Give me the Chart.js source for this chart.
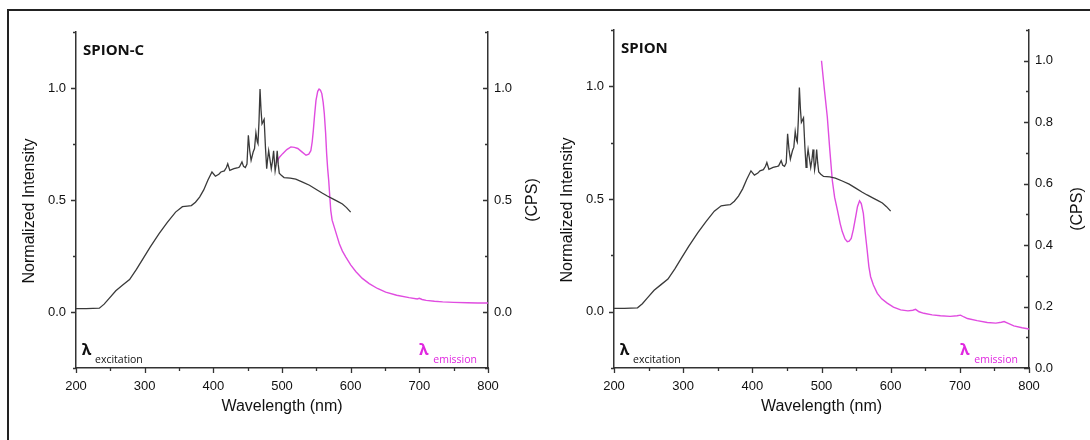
<!DOCTYPE html>
<html>
<head>
<meta charset="utf-8">
<script src="https://cdn.jsdelivr.net/npm/chart.js@4.4.0/dist/chart.umd.min.js"></script>
<style>
    body { margin: 0; background: #fff; }
    #frame {
        position: absolute; left: 7px; top: 9px; width: 1083px; height: 431px;
        border-top: 2px solid #222; border-left: 2px solid #222;
    }
    canvas { position: absolute; top: 0; }
    #spionC { left: 0; }
    #spion { left: 545px; }
</style>
</head>
<body>
<div id="frame"></div>
<canvas id="spionC" width="545" height="440"></canvas>
<canvas id="spion" width="545" height="440"></canvas>
<script>
// excitation scan, shared by both samples (normalized)
const wavelengthExcitation = [200, 215, 234, 241, 248, 258, 268, 278, 288, 297, 308, 321, 333, 345, 355, 362, 368, 374, 380, 386,
    392, 398, 403, 408, 411, 416, 419, 421, 424, 430, 436, 438, 441.7, 444, 446.6, 449, 451, 453, 455, 458,
    460, 462, 464, 465, 466.5, 468, 469.5, 470.9, 472.5, 474, 476, 477.7, 479, 480.6, 482.5, 484.4, 486, 487.8, 489, 490,
    491.5, 493, 494.5, 496, 499, 503, 512, 520, 530, 540, 550, 559, 566, 574, 581, 588, 594, 600];
const intensityExcitation = [0.015, 0.015, 0.017, 0.035, 0.06, 0.095, 0.12, 0.145, 0.19, 0.235, 0.29, 0.35, 0.40, 0.446, 0.47, 0.473, 0.475, 0.49, 0.513, 0.545,
    0.588, 0.625, 0.606, 0.615, 0.625, 0.63, 0.645, 0.662, 0.632, 0.64, 0.645, 0.647, 0.67, 0.65, 0.645, 0.66, 0.789, 0.72, 0.677, 0.714,
    0.73, 0.80, 0.76, 0.752, 0.85, 0.995, 0.90, 0.84, 0.85, 0.86, 0.73, 0.64, 0.68, 0.72, 0.68, 0.64, 0.67, 0.72, 0.67, 0.63,
    0.66, 0.72, 0.66, 0.62, 0.61, 0.60, 0.598, 0.593, 0.58, 0.566, 0.547, 0.53, 0.518, 0.505, 0.494, 0.482, 0.466, 0.446];

// SPION-C emission
const wavelengthEmissionC = [492, 496, 501, 507, 513, 518, 523, 529, 535, 539, 542, 544, 545.6, 547.5, 549.5, 552, 554, 556, 558, 560,
    561.6, 563.5, 565, 566.5, 568, 569.5, 571, 573, 576, 580, 583.5, 588, 593, 600, 607.7, 617, 627, 639, 651, 667,
    685, 697, 700, 704, 710, 722, 734, 750, 770, 785, 800];
const cpsEmissionC = [0.665, 0.69, 0.707, 0.725, 0.737, 0.735, 0.73, 0.715, 0.70, 0.705, 0.72, 0.76, 0.81, 0.88, 0.945, 0.985, 0.995, 0.99, 0.975, 0.935,
    0.886, 0.80, 0.707, 0.64, 0.588, 0.52, 0.454, 0.41, 0.38, 0.34, 0.305, 0.272, 0.245, 0.21, 0.18, 0.15, 0.127, 0.105, 0.089, 0.075,
    0.064, 0.058, 0.061, 0.056, 0.052, 0.048, 0.045, 0.043, 0.041, 0.04, 0.04];

// SPION emission
const wavelengthEmission = [500, 504, 508.4, 512, 515.6, 519, 523, 527, 530, 534, 537.3, 540, 543, 546, 549.4, 552, 555, 557.5, 560.5, 563,
    566, 568.5, 571, 575, 580.7, 587, 595, 604, 614.4, 625, 632, 636, 641, 648, 660, 672, 686, 696, 701, 706,
    711, 725, 739.7, 752, 760, 764, 770, 778, 790, 800];
const cpsEmission = [1.0, 0.91, 0.817, 0.71, 0.611, 0.555, 0.514, 0.47, 0.444, 0.42, 0.411, 0.413, 0.422, 0.45, 0.492, 0.525, 0.544, 0.535, 0.503, 0.445,
    0.384, 0.33, 0.297, 0.27, 0.243, 0.225, 0.211, 0.198, 0.189, 0.186, 0.188, 0.191, 0.183, 0.178, 0.173, 0.17, 0.168, 0.17, 0.172, 0.166,
    0.161, 0.154, 0.148, 0.146, 0.149, 0.151, 0.145, 0.137, 0.131, 0.127];

const wavelengthRange = [200, 800];
const intensityRange = [-0.25, 1.25];
const cpsRangeC = [-0.25, 1.25];
const cpsRange = [0, 1.1];

const AXIS_COLOR = "#333";
const TEXT_COLOR = "#111";
const EXC_COLOR = "#3a3a3a";
const EM_COLOR = "#e04ce0";
const EM_TEXT = "#e028e0";
const tickFont = {family: "'Liberation Sans', Arial, sans-serif", size: 13};

function toPoints(xs, ys) {
    return xs.map((x, i) => ({x, y: ys[i]}));
}

function rotatedText(ctx, text, x, y) {
    ctx.save();
    ctx.translate(x, y);
    ctx.rotate(-Math.PI / 2);
    ctx.fillText(text, 0, 0);
    ctx.restore();
}

// tick marks: left/bottom point out, right axis points in; labelled ticks longer
const tickMarks = {
    id: "tickMarks",
    afterDraw(chart) {
        const {ctx} = chart;
        ctx.save();
        ctx.strokeStyle = AXIS_COLOR;
        ctx.lineWidth = 1.3;
        ctx.beginPath();
        Object.values(chart.scales).forEach(scale => {
            const pos = scale.options.position;
            scale.ticks.forEach(tick => {
                const len = tick.label === "" ? 3 : 5;
                const p = Math.round(scale.getPixelForValue(tick.value)) + 0.5;
                if (pos === "bottom") {
                    ctx.moveTo(p, scale.top);
                    ctx.lineTo(p, scale.top + len);
                } else if (pos === "left") {
                    ctx.moveTo(scale.right, p);
                    ctx.lineTo(scale.right - len, p);
                } else {
                    ctx.moveTo(scale.left, p);
                    ctx.lineTo(scale.left - len, p);
                }
            });
        });
        ctx.stroke();
        ctx.restore();
    }
};

const panelText = {
    id: "panelText",
    afterDraw(chart, args, opts) {
        const {ctx, chartArea: area} = chart;
        const midY = (area.top + area.bottom) / 2;
        ctx.save();
        ctx.textBaseline = "alphabetic";
        ctx.textAlign = "left";
        ctx.fillStyle = "#111";
        ctx.font = "bold 15px 'Open Sans'";
        ctx.fillText(opts.name, area.left + 7, area.top + 23);

        const base = area.bottom - 13;
        ctx.font = "bold 16px 'Noto Sans'";
        ctx.fillText("λ", area.left + 6, base);
        ctx.font = "10.5px 'Open Sans'";
        ctx.fillText("excitation", area.left + 19, base + 8);

        ctx.fillStyle = EM_TEXT;
        ctx.textAlign = "right";
        ctx.fillText("emission", area.right - 11, base + 8);
        const w = ctx.measureText("emission").width;
        ctx.font = "bold 16px 'Noto Sans'";
        ctx.fillText("λ", area.right - 11 - w - 5, base);

        ctx.fillStyle = TEXT_COLOR;
        ctx.font = "16px 'Liberation Sans', Arial, sans-serif";
        ctx.textAlign = "center";
        ctx.textBaseline = "middle";
        rotatedText(ctx, "Normalized Intensity", area.left - 46, midY + 11);
        rotatedText(ctx, "(CPS)", chart.scales.cps.right - 12, midY + opts.cpsShift);
        ctx.restore();
    }
};

function halfStepLabel(value) {
    const v2 = value * 2;
    return Math.abs(v2 - Math.round(v2)) < 1e-6 ? value.toFixed(1) : "";
}

function fifthStepLabel(value) {
    const v10 = Math.round(value * 10);
    return v10 % 2 === 0 && value < 1.05 ? value.toFixed(1) : "";
}

function yAxis(position, range, step, label, width, padding) {
    return {
        type: "linear",
        position: position,
        min: range[0],
        max: range[1],
        border: {color: AXIS_COLOR, width: 1.5},
        grid: {drawOnChartArea: false, drawTicks: false},
        ticks: {
            stepSize: step,
            autoSkip: false,
            padding: padding,
            color: TEXT_COLOR,
            font: tickFont,
            callback: label,
        },
        afterFit: scale => { scale.width = width; },
    };
}

function buildPanel(canvasId, opts) {
    const canvas = document.getElementById(canvasId);
    return new Chart(canvas, {
        type: "line",
        data: {
            datasets: [
                {
                    label: "excitation",
                    data: toPoints(wavelengthExcitation, intensityExcitation),
                    yAxisID: "y",
                    borderColor: EXC_COLOR,
                    borderWidth: 1.3,
                    pointRadius: 0,
                    order: 1,
                },
                {
                    label: "emission",
                    data: toPoints(opts.emissionX, opts.emissionY),
                    yAxisID: "cps",
                    borderColor: EM_COLOR,
                    borderWidth: 1.4,
                    pointRadius: 0,
                    order: 2,
                },
            ]
        },
        options: {
            responsive: false,
            animation: false,
            layout: {padding: {top: opts.top, left: 0, right: 0, bottom: 0}},
            plugins: {
                legend: {display: false},
                tooltip: {enabled: false},
                panelText: {name: opts.name, cpsShift: opts.cpsShift},
            },
            scales: {
                x: {
                    type: "linear",
                    position: "bottom",
                    min: wavelengthRange[0],
                    max: wavelengthRange[1],
                    border: {color: AXIS_COLOR, width: 1.5},
                    grid: {drawOnChartArea: false, drawTicks: false},
                    ticks: {
                        stepSize: 50,
                        autoSkip: false,
                        maxRotation: 0,
                        padding: 11,
                        color: TEXT_COLOR,
                        font: tickFont,
                        callback: value => value % 100 === 0 ? String(value) : "",
                    },
                    title: {
                        display: true,
                        text: "Wavelength (nm)",
                        color: TEXT_COLOR,
                        font: {family: "'Liberation Sans', Arial, sans-serif", size: 16},
                        padding: {top: 0, bottom: 24},
                    },
                    afterFit: scale => { scale.height = 72; },
                },
                y: yAxis("left", intensityRange, 0.25, halfStepLabel, opts.leftWidth, 10),
                cps: yAxis("right", opts.cpsRange, opts.cpsStep, opts.cpsLabel, opts.rightWidth, 6),
            }
        },
        plugins: [tickMarks, panelText]
    });
}

buildPanel("spionC", {
    name: "SPION-C",
    emissionX: wavelengthEmissionC,
    emissionY: cpsEmissionC,
    cpsRange: cpsRangeC,
    cpsStep: 0.25,
    cpsLabel: halfStepLabel,
    top: 32,
    leftWidth: 76,
    rightWidth: 57,
    cpsShift: 0,
});

buildPanel("spion", {
    name: "SPION",
    emissionX: wavelengthEmission,
    emissionY: cpsEmission,
    cpsRange: cpsRange,
    cpsStep: 0.1,
    cpsLabel: fifthStepLabel,
    top: 30,
    leftWidth: 69,
    rightWidth: 61,
    cpsShift: 10,
});
</script>
</body>
</html>
